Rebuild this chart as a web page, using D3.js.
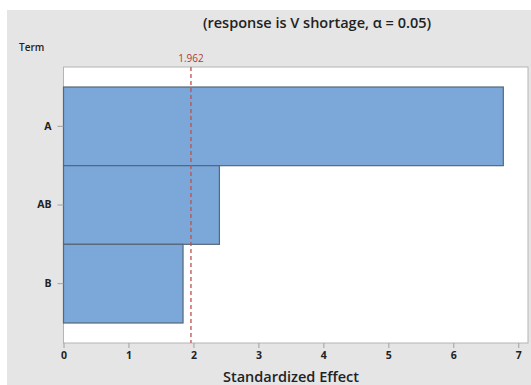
<!DOCTYPE html>
<html><head><meta charset="utf-8">
<script src="https://cdn.jsdelivr.net/npm/d3@7"></script>
<style>
html,body{margin:0;padding:0;background:#fff;}
svg{display:block;}
text{font-family:"Open Sans","Noto Sans",sans-serif;}
</style></head>
<body><svg id="c" width="531" height="385"></svg>
<script>
const terms = ["A", "AB", "B"];
const effects = [6.77, 2.40, 1.84];
const xTicks = [0, 1, 2, 3, 4, 5, 6, 7];
const critical = 1.962;
const title = "(response is V shortage, \u03b1 = 0.05)";
const xLabel = "Standardized Effect";
const yLabel = "Term";

const svg = d3.select("#c");
svg.append("rect").attr("x", 7).attr("y", 10).attr("width", 524).attr("height", 375).attr("fill", "#e5e5e5");

const L = 63.5, R = 528, T = 67, B = 343;
const x = d3.scaleLinear().domain([0, 7.15]).range([L, R]);
const y = d3.scaleBand().domain(terms).range([T + 20, B - 20]).padding(0);

svg.append("rect").attr("x", L).attr("y", T).attr("width", R - L).attr("height", B - T)
  .attr("fill", "#fff").attr("stroke", "#b4b4b4").attr("stroke-width", 1);

svg.append("g").selectAll("rect").data(terms).join("rect")
  .attr("x", x(0)).attr("y", d => y(d))
  .attr("width", (d, i) => x(effects[i]) - x(0)).attr("height", y.bandwidth())
  .attr("fill", "#7ba7d9").attr("stroke", "#56677a").attr("stroke-width", 1.2);

svg.append("line").attr("x1", x(critical)).attr("x2", x(critical)).attr("y1", T).attr("y2", B)
  .attr("stroke", "#c0504d").attr("stroke-width", 1.3).attr("stroke-dasharray", "4,3");
svg.append("text").attr("x", x(critical)).attr("y", 62).attr("text-anchor", "middle")
  .attr("font-size", 10).attr("fill", "#b03a3a").text(critical);

const xAxis = svg.append("g").attr("transform", `translate(0,${B})`)
  .call(d3.axisBottom(x).tickValues(xTicks).tickSize(5).tickPadding(4).tickFormat(d3.format("d")));
xAxis.select(".domain").remove();
xAxis.selectAll("line").attr("stroke", "#a0a0a0");
xAxis.selectAll("text").attr("font-size", 10.5).attr("font-weight", 700).attr("fill", "#222")
  .style("font-family", '"Open Sans","Noto Sans",sans-serif');

const yAxis = svg.append("g").attr("transform", `translate(${L},0)`)
  .call(d3.axisLeft(y).tickSize(6).tickPadding(6));
yAxis.select(".domain").remove();
yAxis.selectAll("line").attr("stroke", "#a0a0a0");
yAxis.selectAll("text").attr("font-size", 10.5).attr("font-weight", 700).attr("fill", "#222")
  .style("font-family", '"Open Sans","Noto Sans",sans-serif');

svg.append("text").attr("x", 19).attr("y", 51).attr("font-size", 10).attr("font-weight", 600)
  .attr("fill", "#222").text(yLabel);
svg.append("text").attr("x", 317).attr("y", 28).attr("text-anchor", "middle")
  .attr("font-size", 14.5).attr("font-weight", 600).attr("fill", "#222").text(title);
svg.append("text").attr("x", 291).attr("y", 382).attr("text-anchor", "middle")
  .attr("font-size", 14.5).attr("font-weight", 600).attr("fill", "#222").text(xLabel);
</script></body></html>
